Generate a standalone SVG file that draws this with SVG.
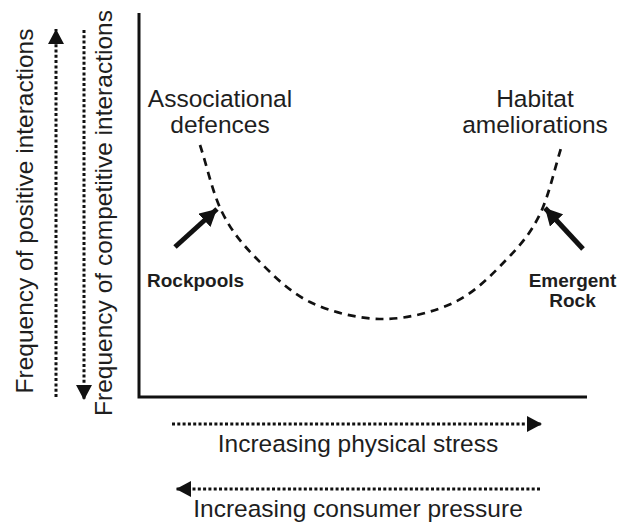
<svg xmlns="http://www.w3.org/2000/svg" width="618" height="525" viewBox="0 0 618 525">
  <defs>
    <style>
      .lbl { font-family: "Liberation Sans", Arial, sans-serif; font-size: 24.5px; fill: #1e1e1e; }
      .bold { font-family: "Liberation Sans", Arial, sans-serif; font-size: 19px; font-weight: bold; fill: #1e1e1e; }
      .axis { fill: none; stroke: #111; stroke-width: 3; }
      .dotted { fill: none; stroke: #111; stroke-width: 3; stroke-dasharray: 3 2.3; }
      .curve { fill: none; stroke: #111; stroke-width: 2.7; stroke-dasharray: 8 6; }
      .thick { fill: none; stroke: #111; stroke-width: 5; }
    </style>
    <marker id="tri" markerUnits="userSpaceOnUse" markerWidth="15" markerHeight="16" viewBox="0 0 15 16" refX="15" refY="8" orient="auto">
      <path d="M0,0 L15,8 L0,16 Z" fill="#111"/>
    </marker>
    <marker id="bigtri" markerUnits="userSpaceOnUse" markerWidth="17" markerHeight="18" viewBox="0 0 17 18" refX="17" refY="9" orient="auto">
      <path d="M0,0 L17,9 L0,18 Z" fill="#111"/>
    </marker>
  </defs>
  <rect width="618" height="525" fill="#ffffff"/>

  <g id="axes">
    <path class="axis" d="M139,13 L139,397 L587,397"/>
  </g>

  <g id="connectors">
    <path id="positive-arrow" class="dotted" d="M56,397 L56,29" marker-end="url(#tri)"/>
    <path id="competitive-arrow" class="dotted" d="M84,30 L84,400" marker-end="url(#tri)"/>
    <path id="stress-arrow" class="dotted" d="M172,424 L542,424" marker-end="url(#tri)"/>
    <path id="consumer-arrow" class="dotted" d="M540,489 L176,489" marker-end="url(#tri)"/>
    <path id="rockpools-arrow" class="thick" d="M175,247 L217,209" marker-end="url(#bigtri)"/>
    <path id="emergent-arrow" class="thick" d="M583,249 L545,208" marker-end="url(#bigtri)"/>
  </g>

  <g id="curve">
    <path class="curve" d="M200,145 C207.3,167.3 212.7,193.2 222,212 C231.3,230.8 241.3,243 256,258 C270.7,273 288.8,291.8 310,302 C331.2,312.2 358.8,319 383,319 C407.2,319 434.3,312 455,302 C475.7,292 492.8,273.7 507,259 C521.2,244.3 530.8,233 540,214 C549.2,195 554.7,168 562,145"/>
  </g>

  <g id="y-labels">
    <text class="lbl" transform="translate(33,211) rotate(-90)" text-anchor="middle">Frequency of positive interactions</text>
    <text class="lbl" transform="translate(112,213) rotate(-90)" text-anchor="middle">Frequency of competitive interactions</text>
  </g>

  <g id="associational">
    <text class="lbl" x="220" y="107" text-anchor="middle">Associational</text>
    <text class="lbl" x="220" y="133" text-anchor="middle">defences</text>
  </g>

  <g id="habitat">
    <text class="lbl" x="535" y="107" text-anchor="middle">Habitat</text>
    <text class="lbl" x="535" y="133" text-anchor="middle">ameliorations</text>
  </g>

  <g id="rockpools">
    <text class="bold" x="147" y="287">Rockpools</text>
  </g>

  <g id="emergent-rock">
    <text class="bold" x="572.5" y="287" text-anchor="middle">Emergent</text>
    <text class="bold" x="572.5" y="307" text-anchor="middle">Rock</text>
  </g>

  <g id="x-labels">
    <text class="lbl" x="358" y="452" text-anchor="middle">Increasing physical stress</text>
    <text class="lbl" x="358" y="517" text-anchor="middle">Increasing consumer pressure</text>
  </g>
</svg>
